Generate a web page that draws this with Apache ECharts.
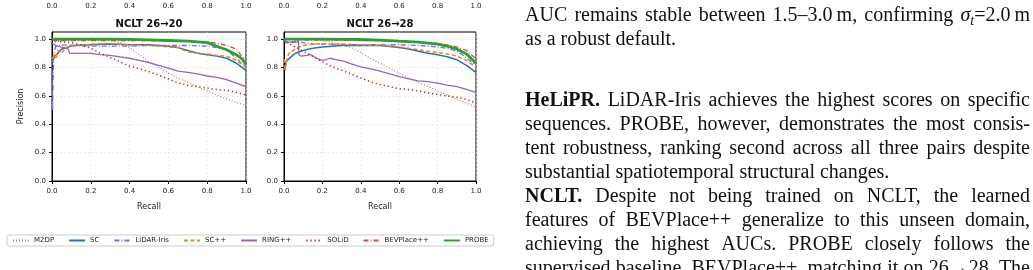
<!DOCTYPE html>
<html>
<head>
<meta charset="utf-8">
<title>NCLT PR curves</title>
<script src="https://cdn.jsdelivr.net/npm/echarts@6/dist/echarts.min.js"></script>
<style>
  html, body { margin: 0; padding: 0; background: #fff; }
  #chart { width: 1033px; height: 270px; }
</style>
</head>
<body>
<div id="chart"></div>
<script>
// ---- data: [recall, precision] ----
const methods = ['M2DP', 'SC', 'LiDAR-Iris', 'SC++', 'RING++', 'SOLiD', 'BEVPlace++', 'PROBE'];
const panelTitles = ['NCLT 26\u219220', 'NCLT 26\u219228'];
const tickValues = [0, 0.2, 0.4, 0.6, 0.8, 1.0];

// NCLT 26->20
const m2dp_20 = [[0,1.0],[0.03,0.985],[0.05,0.99],[0.1,0.995],[0.2,0.995],[0.3,0.99],[0.35,0.975],[0.4,0.94],[0.45,0.89],[0.5,0.84],[0.55,0.8],[0.6,0.76],[0.65,0.725],[0.7,0.695],[0.75,0.665],[0.8,0.635],[0.85,0.605],[0.9,0.58],[0.95,0.555],[1.0,0.53]];
const sc_20 = [[0.003,0.84],[0.01,0.87],[0.02,0.86],[0.03,0.9],[0.05,0.93],[0.08,0.94],[0.1,0.955],[0.2,0.96],[0.3,0.965],[0.4,0.96],[0.5,0.96],[0.6,0.95],[0.65,0.94],[0.7,0.92],[0.75,0.9],[0.8,0.89],[0.85,0.88],[0.9,0.865],[0.95,0.83],[1.0,0.78]];
const iris_20 = [[0,0.85],[0.003,0.5],[0.006,0.75],[0.01,0.9],[0.02,0.95],[0.05,0.96],[0.1,0.955],[0.2,0.95],[0.3,0.95],[0.4,0.95],[0.5,0.955],[0.6,0.955],[0.7,0.955],[0.8,0.95],[0.85,0.94],[0.9,0.925],[0.95,0.865],[1.0,0.8]];
const scpp_20 = [[0.003,0.86],[0.01,0.9],[0.02,0.86],[0.03,0.92],[0.05,0.9],[0.07,0.94],[0.1,0.95],[0.2,0.965],[0.3,0.97],[0.4,0.96],[0.5,0.955],[0.6,0.945],[0.65,0.94],[0.7,0.91],[0.75,0.9],[0.8,0.895],[0.85,0.885],[0.9,0.88],[0.95,0.85],[1.0,0.8]];
const ring_20 = [[0,0.97],[0.03,0.95],[0.06,0.94],[0.085,0.93],[0.09,0.9],[0.1,0.89],[0.15,0.9],[0.2,0.9],[0.25,0.89],[0.3,0.885],[0.35,0.875],[0.4,0.865],[0.45,0.85],[0.5,0.835],[0.55,0.815],[0.6,0.795],[0.65,0.775],[0.7,0.765],[0.75,0.755],[0.8,0.74],[0.85,0.73],[0.9,0.715],[0.95,0.69],[1.0,0.665]];
const solid_20 = [[0,1.0],[0.05,0.98],[0.1,0.975],[0.15,0.96],[0.2,0.935],[0.25,0.9],[0.3,0.87],[0.35,0.84],[0.4,0.81],[0.45,0.79],[0.5,0.77],[0.55,0.745],[0.6,0.72],[0.65,0.69],[0.7,0.675],[0.75,0.665],[0.8,0.655],[0.85,0.645],[0.9,0.64],[0.95,0.625],[1.0,0.605]];
const bev_20 = [[0,1.0],[0.02,0.98],[0.05,0.99],[0.1,0.99],[0.2,0.99],[0.3,0.99],[0.4,0.99],[0.5,0.99],[0.6,0.988],[0.7,0.985],[0.8,0.98],[0.85,0.97],[0.9,0.955],[0.95,0.93],[1.0,0.84]];
const probe_20 = [[0,1.0],[0.1,1.0],[0.2,1.0],[0.3,1.0],[0.4,0.998],[0.5,0.995],[0.6,0.99],[0.7,0.985],[0.75,0.98],[0.8,0.975],[0.85,0.95],[0.9,0.925],[0.95,0.89],[0.98,0.86],[1.0,0.82]];

// NCLT 26->28
const m2dp_28 = [[0,1.0],[0.05,1.0],[0.1,1.0],[0.15,0.995],[0.2,0.99],[0.25,0.98],[0.3,0.96],[0.35,0.94],[0.4,0.905],[0.45,0.865],[0.5,0.83],[0.55,0.795],[0.6,0.76],[0.65,0.725],[0.7,0.695],[0.75,0.665],[0.8,0.635],[0.85,0.605],[0.9,0.575],[0.95,0.55],[1.0,0.52]];
const sc_28 = [[0.005,0.78],[0.01,0.84],[0.02,0.85],[0.04,0.88],[0.06,0.9],[0.1,0.92],[0.15,0.935],[0.2,0.945],[0.3,0.955],[0.4,0.957],[0.5,0.955],[0.6,0.94],[0.65,0.93],[0.7,0.915],[0.75,0.9],[0.8,0.89],[0.85,0.875],[0.9,0.855],[0.95,0.815],[1.0,0.765]];
const iris_28 = [[0,1.0],[0.01,0.97],[0.03,0.98],[0.06,0.985],[0.1,0.975],[0.15,0.965],[0.2,0.965],[0.3,0.962],[0.4,0.96],[0.5,0.96],[0.6,0.96],[0.7,0.955],[0.75,0.95],[0.8,0.945],[0.85,0.935],[0.9,0.915],[0.95,0.87],[1.0,0.81]];
const scpp_28 = [[0.002,0.86],[0.005,0.78],[0.01,0.82],[0.02,0.88],[0.03,0.91],[0.05,0.92],[0.07,0.94],[0.1,0.955],[0.15,0.965],[0.2,0.967],[0.3,0.965],[0.4,0.96],[0.5,0.955],[0.6,0.945],[0.65,0.935],[0.7,0.925],[0.75,0.915],[0.8,0.905],[0.85,0.895],[0.9,0.88],[0.95,0.85],[1.0,0.8]];
const ring_28 = [[0,0.99],[0.02,0.98],[0.05,0.975],[0.07,0.98],[0.075,1.0],[0.078,0.89],[0.09,0.88],[0.1,0.875],[0.12,0.885],[0.14,0.89],[0.17,0.865],[0.2,0.85],[0.22,0.855],[0.24,0.865],[0.27,0.855],[0.31,0.845],[0.35,0.825],[0.4,0.805],[0.45,0.79],[0.5,0.775],[0.55,0.755],[0.6,0.735],[0.65,0.72],[0.7,0.705],[0.75,0.7],[0.8,0.69],[0.85,0.675],[0.9,0.665],[0.95,0.645],[1.0,0.625]];
const solid_28 = [[0,1.0],[0.01,0.98],[0.03,0.965],[0.05,0.95],[0.07,0.935],[0.1,0.915],[0.13,0.895],[0.16,0.87],[0.2,0.84],[0.25,0.805],[0.3,0.78],[0.35,0.755],[0.4,0.725],[0.45,0.7],[0.5,0.68],[0.55,0.665],[0.6,0.65],[0.65,0.645],[0.7,0.635],[0.75,0.62],[0.8,0.61],[0.85,0.6],[0.9,0.59],[0.95,0.575],[1.0,0.55]];
const bev_28 = [[0,1.0],[0.1,0.995],[0.2,0.995],[0.3,0.993],[0.4,0.99],[0.5,0.99],[0.6,0.985],[0.7,0.978],[0.8,0.97],[0.85,0.96],[0.9,0.945],[0.95,0.92],[1.0,0.86]];
const probe_28 = [[0,1.0],[0.1,1.0],[0.2,1.0],[0.3,0.998],[0.4,0.997],[0.5,0.993],[0.6,0.985],[0.7,0.978],[0.8,0.965],[0.85,0.95],[0.9,0.93],[0.95,0.895],[0.97,0.87],[1.0,0.83]];

const panel20 = [m2dp_20, sc_20, iris_20, scpp_20, ring_20, solid_20, bev_20, probe_20];
const panel28 = [m2dp_28, sc_28, iris_28, scpp_28, ring_28, solid_28, bev_28, probe_28];

// body text beside the figure: [y, justified, text]; '*' = bold word
const paraLines = [
  [16, true, 'AUC remains stable between 1.5\u20133.0\u2009m, confirming \u03c3t=2.0\u2009m'],
  [40, false, 'as a robust default.'],
  [101, true, '*HeLiPR. LiDAR-Iris achieves the highest scores on specific'],
  [125, true, 'sequences. PROBE, however, demonstrates the most consis-'],
  [149, true, 'tent robustness, ranking second across all three pairs despite'],
  [173, false, 'substantial spatiotemporal structural changes.'],
  [197, true, '*NCLT. Despite not being trained on NCLT, the learned'],
  [221, true, 'features of BEVPlace++ generalize to this unseen domain,'],
  [245, true, 'achieving the highest AUCs. PROBE closely follows the'],
  [269, true, 'supervised baseline, BEVPlace++, matching it on 26\u219228. The']
];

// ---- styles ----
const lineStyles = {
  'M2DP':       { color: '#a0695c', width: 1.2, type: [1, 2], opacity: 0.85 },
  'SC':         { color: '#1f77b4', width: 1.5, type: 'solid' },
  'LiDAR-Iris': { color: '#7b68ee', width: 1.3, type: [5, 2, 1, 2] },
  'SC++':       { color: '#ff7f0e', width: 1.5, type: [4, 2.5] },
  'RING++':     { color: '#9467bd', width: 1.3, type: 'solid' },
  'SOLiD':      { color: '#e41a1c', width: 1.5, type: [1.3, 2.8] },
  'BEVPlace++': { color: '#e8413c', width: 1.3, type: [5, 2, 1, 2] },
  'PROBE':      { color: '#2ca02c', width: 2.8, type: 'solid' }
};
const FONT = 'DejaVu Sans';
const plots = [
  { left: 52, width: 194 },
  { left: 284, width: 192 }
];
const PLOT_TOP = 32, PLOT_H = 149;
const TEXT_LEFT = 525, TEXT_RIGHT = 1030;

const measureCtx = document.createElement('canvas').getContext('2d');
function segFont(kind) {
  const size = kind === 's' ? 14 : 20;
  return (kind === 'b' ? 'bold ' : '') + (kind === 'i' || kind === 's' ? 'italic ' : '') + size + 'px "Liberation Serif"';
}
function segWidth(seg) {
  measureCtx.font = segFont(seg[1]);
  return measureCtx.measureText(seg[0]).width;
}
function wordSegs(w) {
  if (w[0] === '*') return [[w.slice(1), 'b']];
  if (w.indexOf('\u03c3t') === 0) return [['\u03c3', 'i'], ['t', 's'], [w.slice(2), '']];
  return [[w, '']];
}
function buildParagraph() {
  const els = [];
  paraLines.forEach(([y, justify, str]) => {
    const words = str.split(' ').map(wordSegs);
    const widths = words.map(w => w.reduce((s, g) => s + segWidth(g), 0));
    const total = widths.reduce((a, b) => a + b, 0);
    const gap = justify ? (TEXT_RIGHT - TEXT_LEFT - total) / (words.length - 1) : segWidth([' ', '']);
    let x = TEXT_LEFT;
    words.forEach((w, i) => {
      let sx = x;
      w.forEach(g => {
        els.push({
          type: 'text', x: sx, y: y + (g[1] === 's' ? 5 : 0), silent: true,
          style: { text: g[0], font: segFont(g[1]), fill: '#111',
                   textAlign: 'left', align: 'left', textVerticalAlign: 'middle', verticalAlign: 'middle' }
        });
        sx += segWidth(g);
      });
      x += widths[i] + gap;
    });
  });
  return els;
}

function init() {
  const chart = echarts.init(document.getElementById('chart'));

  const grids = [], xAxes = [], yAxes = [], series = [];
  const tickLabel = { fontSize: 7, color: '#222', fontFamily: FONT };
  plots.forEach((p, i) => {
    grids.push({ left: p.left, width: p.width, top: PLOT_TOP, height: PLOT_H,
                 show: true, borderColor: '#000', borderWidth: 1, backgroundColor: 'transparent' });
    xAxes.push({
      type: 'value', gridIndex: i, min: 0, max: 1, interval: 0.2,
      name: 'Recall', nameLocation: 'middle', nameGap: 22,
      nameTextStyle: { fontSize: 8, color: '#222', fontFamily: FONT },
      axisLine: { show: true, lineStyle: { color: '#000', width: 1 } },
      axisTick: { show: true, inside: false, length: 3, lineStyle: { color: '#000' } },
      axisLabel: Object.assign({ margin: 7, formatter: v => v.toFixed(1) }, tickLabel),
      splitLine: { show: true, lineStyle: { color: '#dcdcdc', width: 0.6, type: [2, 2] } }
    });
    yAxes.push({
      type: 'value', gridIndex: i, min: 0, max: 1.05, interval: 0.2,
      name: i === 0 ? 'Precision' : '', nameLocation: 'middle', nameGap: 27,
      nameTextStyle: { fontSize: 8, color: '#222', fontFamily: FONT },
      axisLine: { show: true, lineStyle: { color: '#000', width: 1 } },
      axisTick: { show: true, inside: false, length: 3, lineStyle: { color: '#000' }, customValues: tickValues },
      axisLabel: Object.assign({ margin: 6, formatter: v => (v > 1.001 ? '' : v.toFixed(1)), customValues: tickValues }, tickLabel),
      splitLine: { show: true, lineStyle: { color: '#dcdcdc', width: 0.6, type: [2, 2] } }
    });
    const panel = i === 0 ? panel20 : panel28;
    methods.forEach((m, k) => {
      series.push({
        name: m, type: 'line', xAxisIndex: i, yAxisIndex: i,
        data: panel[k], symbol: 'none', showSymbol: false,
        lineStyle: lineStyles[m], itemStyle: { color: lineStyles[m].color },
        emphasis: { disabled: true }, z: 2 + k
      });
    });
  });
  // tick labels of the panels above, cut off at the top edge
  plots.forEach((p, i) => {
    grids.push({ left: p.left, width: p.width, top: -30, height: 24 });
    xAxes.push({
      type: 'value', gridIndex: 2 + i, min: 0, max: 1, interval: 0.2,
      axisLine: { show: false }, axisTick: { show: false }, splitLine: { show: false },
      axisLabel: Object.assign({ margin: 3, formatter: v => v.toFixed(1) }, tickLabel)
    });
    yAxes.push({ type: 'value', gridIndex: 2 + i, min: 0, max: 1, show: false });
  });

  const titles = plots.map((p, i) => ({
    type: 'text', x: p.left + p.width / 2, y: 24, silent: true,
    style: { text: panelTitles[i], font: 'bold 10px "DejaVu Sans"', fill: '#111',
             textAlign: 'center', align: 'center', textVerticalAlign: 'middle', verticalAlign: 'middle' }
  }));

  chart.setOption({
    animation: false,
    textStyle: { fontFamily: FONT },
    grid: grids,
    xAxis: xAxes,
    yAxis: yAxes,
    legend: {
      data: methods, left: 7, top: 235, orient: 'horizontal',
      itemWidth: 16, itemHeight: 8, itemGap: 14, padding: [2, 5],
      borderColor: '#cccccc', borderWidth: 1, borderRadius: 2,
      itemStyle: { opacity: 0 },
      textStyle: { fontSize: 7, color: '#222', fontFamily: FONT },
      selectedMode: false
    },
    series: series,
    graphic: titles.concat(buildParagraph())
  });
}
init();
</script>
</body>
</html>
